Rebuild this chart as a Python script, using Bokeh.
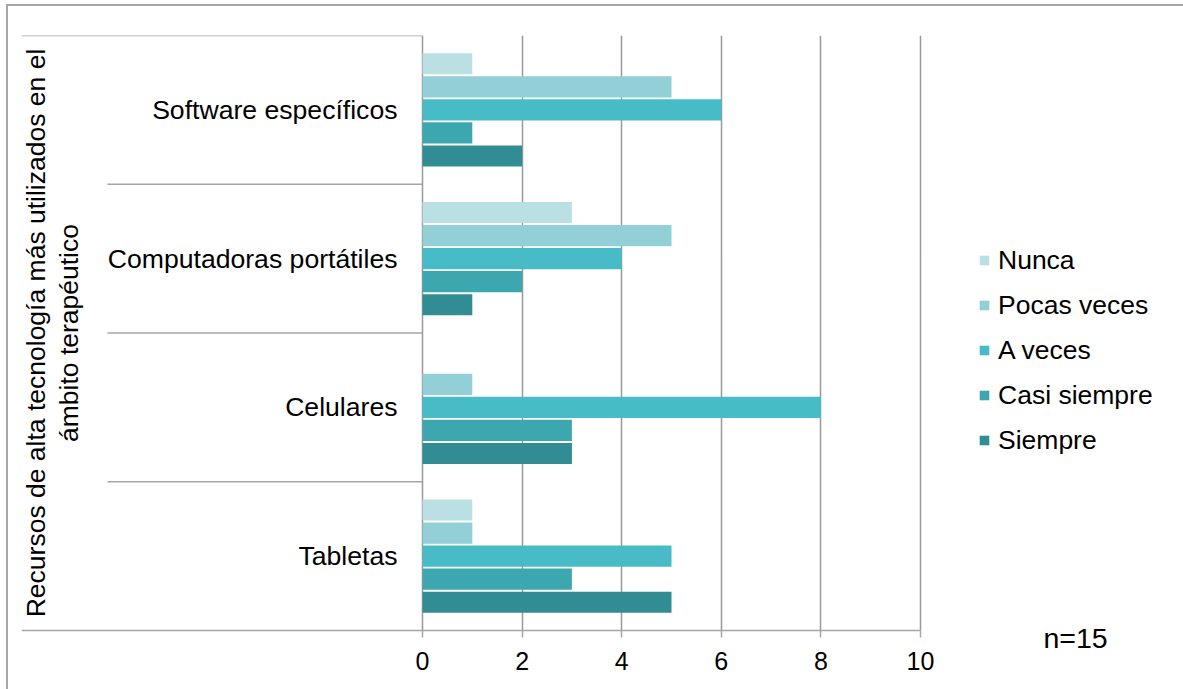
import math
from bokeh.plotting import figure
from bokeh.models import (ColumnDataSource, Range1d, FixedTicker,
                          Legend, LegendItem, Label)
from bokeh.transform import dodge
from bokeh.core.properties import value
from bokeh.embed import file_html
from bokeh.resources import INLINE

# ---------------- data ----------------
categories = ["Tabletas", "Celulares", "Computadoras portátiles", "Software específicos"]  # bottom -> top
series = ["Nunca", "Pocas veces", "A veces", "Casi siempre", "Siempre"]
nunca = [1, 0, 3, 1]
pocas_veces = [1, 1, 5, 5]
a_veces = [5, 8, 4, 6]
casi_siempre = [3, 3, 2, 1]
siempre = [5, 3, 1, 2]
values = [nunca, pocas_veces, a_veces, casi_siempre, siempre]
colors = ["#bbe0e3", "#93cfd7", "#47bcc7", "#3ca7af", "#318d93"]
x_ticks = [0, 2, 4, 6, 8, 10]
axis_title = "Recursos de alta tecnología más utilizados en el\námbito terapéutico"
note = "n=15"

# ---------------- layout ----------------
FONT = value("Liberation Sans")
FRAME_W = 1162
PLOT_H = 595          # height of the category area in px
FRAME_H = 654         # frame reaches the bottom of the canvas
PX_PER_UNIT = 49.8
X_START = -401 / PX_PER_UNIT
X_END = X_START + FRAME_W / PX_PER_UNIT
INNER_LEFT = -315 / PX_PER_UNIT
TITLE_X = -370 / PX_PER_UNIT
NOTE_X = 653 / PX_PER_UNIT
GRAY = "#a6a6a6"
N = len(categories)
PX_PER_CAT = PLOT_H / N
Y_START = -(FRAME_H - PLOT_H) / PX_PER_CAT

# category centre positions on a numeric axis (index based)
pos = [i + 0.5 for i in range(N)]

p = figure(y_range=Range1d(Y_START, N), x_range=Range1d(X_START, X_END),
           frame_width=FRAME_W, frame_height=FRAME_H,
           min_border_left=13, min_border_right=0, min_border_top=29, min_border_bottom=0,
           toolbar_location=None, output_backend="svg", y_axis_location=None)
p.outline_line_color = None
p.background_fill_color = "white"
p.border_fill_color = "white"
p.styles = {"margin-left": "6px", "margin-top": "4px",
            "border-left": "2px solid #a6a6a6", "border-top": "2px solid #a6a6a6"}

p.ygrid.visible = False
xaxis = p.xaxis[0]
xaxis.fixed_location = 0
xaxis.ticker = FixedTicker(ticks=x_ticks)
xaxis.bounds = (X_START, x_ticks[-1])
xaxis.axis_line_color = GRAY
xaxis.axis_line_width = 1.5
xaxis.major_tick_line_color = GRAY
xaxis.major_tick_line_width = 1.5
xaxis.major_tick_out = 7
xaxis.major_tick_in = 0
xaxis.minor_tick_line_color = None
xaxis.major_label_text_font = "Liberation Sans"
xaxis.major_label_text_font_size = "25px"
xaxis.major_label_text_color = "#000000"
xaxis.major_label_standoff = 14

xgrid = p.xgrid[0]
xgrid.grid_line_color = "#999999"
xgrid.grid_line_width = 1.5
if "cross_bounds" in xgrid.properties():
    xgrid.cross_bounds = (0, N)
else:
    xgrid.visible = False
    g = ColumnDataSource(dict(x=x_ticks))
    p.segment(x0="x", x1="x", y0=0, y1=N, source=g, line_color="#999999", line_width=1.5,
              level="underlay")

# bars
offsets = [0.31, 0.155, 0.0, -0.155, -0.31]
renderers = []
for name, vals, col, off in zip(series, values, colors, offsets):
    src = ColumnDataSource(dict(pos=pos, cat=categories, val=vals))
    r = p.hbar(y=dodge("pos", off), left=0, right="val", height=0.142,
               source=src, fill_color=col, line_color=None)
    renderers.append(r)

# category separators (top edge of each category band)
sep = ColumnDataSource(dict(pos=pos, x0=[INNER_LEFT] * (N - 1) + [X_START]))
p.segment(x0="x0", y0=dodge("pos", 0.5), x1=0, y1=dodge("pos", 0.5), source=sep,
          line_color=GRAY, line_width=1.5)

# category labels
lab = ColumnDataSource(dict(pos=pos, cat=categories))
p.text(x=0, y="pos", text="cat", source=lab, x_offset=-25, text_align="right",
       text_baseline="middle", text_font=FONT, text_font_size="26.6px", text_color="#000000")

# axis title (rotated, two lines)
p.text(x=[TITLE_X], y=[N / 2], text=[axis_title], angle=math.pi / 2,
       text_align="center", text_baseline="middle", text_font=FONT,
       text_font_size="26.5px", text_color="#000000", text_line_height=1.1)

# note
p.add_layout(Label(x=NOTE_X, y=-7 / PX_PER_CAT, text=note,
                   text_align="center", text_baseline="alphabetic",
                   text_font="Liberation Sans", text_font_size="28.5px", text_color="#000000"))

legend = Legend(items=[LegendItem(label=s, renderers=[r]) for s, r in zip(series, renderers)],
                location=(957, 232), glyph_width=12, glyph_height=12, label_standoff=8,
                label_height=34, spacing=11, padding=0, margin=0,
                border_line_color=None, background_fill_alpha=0,
                label_text_font="Liberation Sans", label_text_font_size="26.5px",
                label_text_color="#000000")
p.add_layout(legend)

open("out.html", "w").write(file_html(p, INLINE))
